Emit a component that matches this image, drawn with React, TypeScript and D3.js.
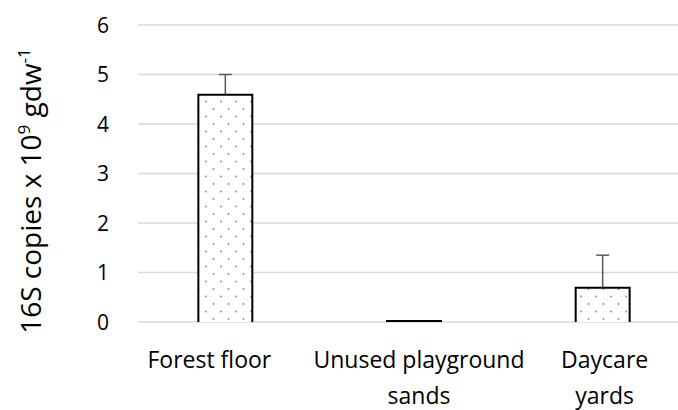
import React from "react";
import * as d3 from "d3";

const categories: string[][] = [["Forest floor"], ["Unused playground", "sands"], ["Daycare", "yards"]];
const values: number[] = [4.59, 0.02, 0.69];
const errors: number[] = [0.41, 0, 0.66];
const yTicks: number[] = [0, 1, 2, 3, 4, 5, 6];

const W = 678;
const H = 410;
const FONT = "'Open Sans', sans-serif";

export default function App() {
  const keys = categories.map((c) => c.join(" "));
  const x = d3.scaleBand<string>().domain(keys).range([131, 697]).paddingInner(0.714).paddingOuter(0.357);
  const y = d3.scaleLinear().domain([0, 6]).range([322, 25]);
  const gridX0 = 138;
  const gridX1 = 678;
  const bw = x.bandwidth();
  const capW = 13;
  const labelShift = [-16, 5, 2];

  return (
    <svg width={W} height={H} style={{ position: "absolute", left: 0, top: 0, background: "#fff" }}>
      <defs>
        <pattern id="dots" width={15} height={15} patternUnits="userSpaceOnUse" x={0} y={0}>
          <rect width={15} height={15} fill="#fff" />
          <circle cx={3.5} cy={4} r={0.9} fill="#8a8a8a" />
          <circle cx={11} cy={11.5} r={0.9} fill="#8a8a8a" />
        </pattern>
      </defs>
      {yTicks.map((t) => (
        <g key={t}>
          <line x1={gridX0} x2={gridX1} y1={y(t)} y2={y(t)} stroke="#d9d9d9" strokeWidth={1.3} />
          <text x={109} y={y(t)} dy="0.36em" textAnchor="end" fontFamily={FONT} fontSize={21} fill="#000">
            {t}
          </text>
        </g>
      ))}
      {keys.map((k, i) => {
        const x0 = x(k)!;
        const top = y(values[i]);
        const cx = x0 + bw / 2;
        return (
          <g key={k}>
            {errors[i] > 0 && (
              <g stroke="#595959" strokeWidth={1.5}>
                <line x1={cx} x2={cx} y1={top} y2={y(values[i] + errors[i])} />
                <line x1={cx - capW / 2} x2={cx + capW / 2} y1={y(values[i] + errors[i])} y2={y(values[i] + errors[i])} />
              </g>
            )}
            <path
              d={`M${x0},${y(0)}V${top}H${x0 + bw}V${y(0)}`}
              fill="url(#dots)"
              stroke="#000"
              strokeWidth={2}
            />
          </g>
        );
      })}
      {keys.map((k, i) => (
        <text key={k} textAnchor="middle" fontFamily={FONT} fontSize={23} fill="#000">
          {categories[i].map((line, j) => (
            <tspan key={j} x={x(k)! + bw / 2 + labelShift[i]} y={368 + j * 36}>
              {line}
            </tspan>
          ))}
        </text>
      ))}
      <text transform="translate(41,191) rotate(-90)" textAnchor="middle" fontFamily={FONT} fontSize={28} fill="#000">
        16S copies x 10<tspan dy={-11} fontSize={17}>9</tspan>
        <tspan dy={11}> gdw</tspan>
        <tspan dy={-11} fontSize={17}>-1</tspan>
      </text>
    </svg>
  );
}
